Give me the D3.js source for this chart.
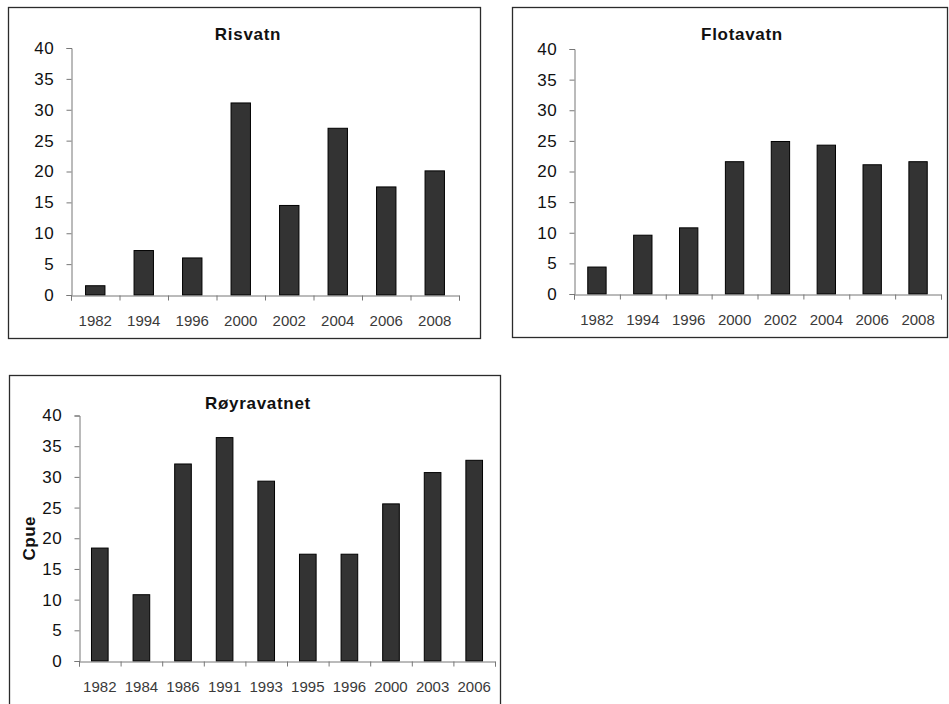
<!DOCTYPE html>
<html>
<head>
<meta charset="utf-8">
<script src="https://cdn.jsdelivr.net/npm/d3@7/dist/d3.min.js"></script>
<style>
  body { margin: 0; background: #fff; }
  svg { display: block; font-family: Arial, "Liberation Sans", sans-serif; }
</style>
</head>
<body>
<div id="chart"></div>
<script>
// values (Cpue per year)
var risvatnYears = ["1982", "1994", "1996", "2000", "2002", "2004", "2006", "2008"];
var risvatnCpue = [1.5, 7.2, 6.0, 31.1, 14.5, 27.0, 17.5, 20.1];

var flotavatnYears = ["1982", "1994", "1996", "2000", "2002", "2004", "2006", "2008"];
var flotavatnCpue = [4.4, 9.6, 10.8, 21.6, 24.9, 24.3, 21.1, 21.6];

var royraYears = ["1982", "1984", "1986", "1991", "1993", "1995", "1996", "2000", "2003", "2006"];
var royraCpue = [18.4, 10.8, 32.1, 36.4, 29.3, 17.4, 17.4, 25.6, 30.7, 32.7];

var yTicks = [0, 5, 10, 15, 20, 25, 30, 35, 40];

const width = 949, height = 704;

var svg = d3.select("#chart").append("svg")
  .attr("width", width)
  .attr("height", height)
  .attr("viewBox", [0, 0, width, height]);

// where each little chart sits on the page
var panels = [
  { title: "Risvatn", years: risvatnYears, values: risvatnCpue,
    box: [8.5, 7.5, 472, 331], plot: [71, 459, 48, 295], titleAt: [248, 40] },
  { title: "Flotavatn", years: flotavatnYears, values: flotavatnCpue,
    box: [512.5, 7.5, 435, 330], plot: [574, 941, 49, 294], titleAt: [742, 40] },
  { title: "Røyravatnet", years: royraYears, values: royraCpue,
    box: [9.5, 375.5, 491, 340], plot: [79, 495, 415.5, 661], titleAt: [258, 409], yLabel: "Cpue" }
];

panels.forEach(function(p) {
  var left = p.plot[0], right = p.plot[1], top = p.plot[2], bottom = p.plot[3];
  var g = svg.append("g");

  g.append("rect")
    .attr("x", p.box[0]).attr("y", p.box[1])
    .attr("width", p.box[2]).attr("height", p.box[3])
    .attr("fill", "#fff")
    .attr("stroke", "#2b2b2b")
    .attr("stroke-width", 1.3);

  var x = d3.scaleBand()
    .domain(p.years)
    .range([left, right])
    .padding(0);

  // category boundaries for the tick marks
  var xEdges = d3.scaleLinear()
    .domain([0, p.years.length])
    .range([left, right]);

  var y = d3.scaleLinear()
    .domain([0, 40])
    .range([bottom, top]);

  // bars
  g.selectAll("rect.bar")
    .data(p.values)
    .enter().append("rect")
    .attr("class", "bar")
    .attr("x", function(d, i) { return x(p.years[i]) + x.bandwidth() * 0.3; })
    .attr("y", function(d) { return y(d); })
    .attr("width", x.bandwidth() * 0.4)
    .attr("height", function(d) { return y(0) - y(d); })
    .attr("fill", "#333333")
    .attr("stroke", "#000")
    .attr("stroke-width", 1);

  // y axis
  var yAxis = g.append("g")
    .attr("transform", "translate(" + (left + 0.5) + ",0)")
    .call(d3.axisLeft(y).tickValues(yTicks).tickSize(5).tickPadding(12));
  yAxis.select(".domain").attr("stroke", "#777");
  yAxis.selectAll(".tick line").attr("stroke", "#777");
  yAxis.selectAll("text")
    .attr("fill", "#111")
    .style("font-size", "17px")
    .style("letter-spacing", "0.7px");
  yAxis.attr("font-family", null);

  // x axis: tick marks on the category edges
  var xTicks = g.append("g")
    .attr("transform", "translate(0," + (bottom + 0.5) + ")")
    .call(d3.axisBottom(xEdges).ticks(p.years.length).tickSize(5).tickSizeOuter(5).tickFormat(""));
  xTicks.select(".domain").attr("stroke", "#777");
  xTicks.selectAll(".tick line").attr("stroke", "#777");

  // x axis: year labels in the middle of each category
  var xLabels = g.append("g")
    .attr("transform", "translate(0," + bottom + ")")
    .call(d3.axisBottom(x).tickSize(0).tickPadding(20));
  xLabels.select(".domain").remove();
  xLabels.selectAll("text")
    .attr("fill", "#3a3a3a")
    .style("font-size", "15px");
  xLabels.attr("font-family", null);

  g.append("text")
    .attr("x", p.titleAt[0])
    .attr("y", p.titleAt[1])
    .attr("text-anchor", "middle")
    .style("font-weight", "bold")
    .style("font-size", "17px")
    .style("letter-spacing", "0.7px")
    .attr("fill", "#111")
    .text(p.title);

  if (p.yLabel) {
    g.append("text")
      .attr("transform", "translate(35," + ((top + bottom) / 2) + ") rotate(-90)")
      .attr("text-anchor", "middle")
      .style("font-weight", "bold")
      .style("font-size", "17px")
      .style("letter-spacing", "0.5px")
      .attr("fill", "#111")
      .text(p.yLabel);
  }
});
</script>
</body>
</html>
